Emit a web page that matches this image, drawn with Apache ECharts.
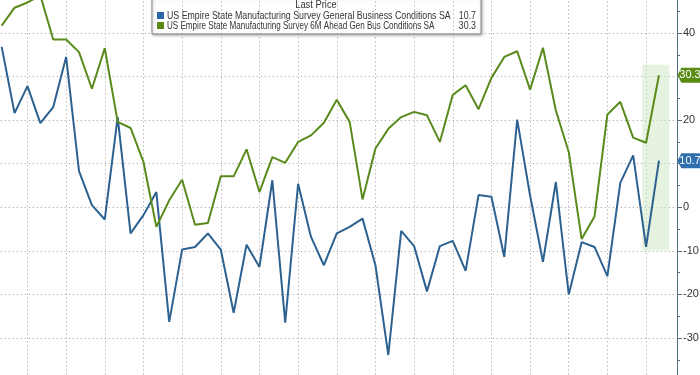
<!DOCTYPE html>
<html>
<head>
<meta charset="utf-8">
<script src="https://cdn.jsdelivr.net/npm/echarts@6/dist/echarts.min.js"></script>
<style>html,body{margin:0;padding:0;background:#fff}#c{width:700px;height:375px}</style>
</head>
<body>
<div id="c"></div>
<script>
// Monthly index (0 = first visible month)
var months = [];
for (var k = 0; k < 52; k++) months.push(k);

var seriesNames = [
  'US Empire State Manufacturing Survey General Business Conditions SA',
  'US Empire State Manufacturing Survey 6M Ahead Gen Bus Conditions SA'
];
var legendTitle = 'Last Price';

var generalBusiness = [36.8,21.6,27.8,19.3,23.0,34.5,8.3,0.5,-2.8,20.7,
  -6.0,-1.8,3.5,-26.3,-9.7,-9.1,-6.0,-9.7,-24.2,-8.6,
  -13.7,6.2,-26.5,5.4,-6.8,-13.3,-6.0,-4.5,-2.6,-13.3,
  -33.9,-5.4,-8.9,-19.3,-8.9,-7.7,-14.6,2.8,2.4,-11.4,
  20.1,2.7,-12.5,5.8,-20.0,-8.0,-9.1,-15.8,5.6,11.9,
  -9.1,10.7];

var sixMonthAhead = [41.7,45.8,47.0,48.6,38.5,38.5,35.6,27.2,36.5,19.6,
  18.2,10.4,-4.5,1.6,6.3,-4.0,-3.6,7.1,7.1,13.3,
  3.5,11.5,10.2,15.0,16.5,19.4,24.7,19.6,1.8,13.5,
  18.0,20.7,21.9,21.1,15.0,25.8,28.0,22.5,29.7,34.5,
  35.8,27.0,36.6,22.2,12.7,-7.3,-2.1,21.3,24.2,16.0,
  14.8,30.3];

var lastPrices = ['10.7', '30.3'];
var yTicks = [-30, -20, -10, 0, 10, 20, 30, 40];
// highlighted window: [x from, x to], [y top, y bottom]
var highlightX = [49.7, 51.8];
var highlightY = [32.7, -9.9];

var xMax = 52.4;
var colors = ['#2d6190', '#5a8a1c'];
var boxColors = ['#2f6fae', '#5a8c14'];
var legendSwatch = ['#2a66a8', '#5a8a14'];
var FONT = "'Liberation Sans',Arial,sans-serif";
var nameScale = [0.8, 0.735];

function pairs(vals) { return vals.map(function (v, i) { return [months[i], v]; }); }

var arrow = 'path://M0,7.5 L4,0 L24,0 L24,15 L4,15 Z';

function endMark(idx, vals) {
  var last = vals[vals.length - 1];
  return {
    symbol: arrow,
    symbolSize: [23, 15],
    symbolOffset: [12, 0],
    symbolKeepAspect: false,
    silent: true,
    itemStyle: { color: boxColors[idx] },
    label: { show: true, position: 'inside', offset: [1, 0], color: '#fff', fontSize: 11, fontFamily: FONT,
      formatter: function () { return lastPrices[idx]; } },
    data: [{ coord: [xMax, last], value: last }]
  };
}

var legendGraphic = {
  type: 'group', z: 50,
  children: [
    { type: 'rect', x: 152, y: -3, shape: { width: 329, height: 37 },
      style: { fill: '#fff', stroke: '#8a8a8a', lineWidth: 1,
        shadowColor: 'rgba(0,0,0,0.3)', shadowBlur: 3, shadowOffsetX: 1, shadowOffsetY: 1 } },
    { type: 'text', x: 316, y: 5, scaleX: 0.85,
      style: { text: legendTitle, fill: '#333', font: '11px ' + FONT, align: 'center', verticalAlign: 'middle' } },
    { type: 'rect', x: 157, y: 12, shape: { width: 7, height: 7 }, style: { fill: legendSwatch[0] } },
    { type: 'rect', x: 157, y: 22, shape: { width: 7, height: 7 }, style: { fill: legendSwatch[1] } },
    { type: 'text', x: 167, y: 15.5, scaleX: nameScale[0],
      style: { text: seriesNames[0], fill: '#333', font: '11px ' + FONT, align: 'left', verticalAlign: 'middle' } },
    { type: 'text', x: 167, y: 25.7, scaleX: nameScale[1],
      style: { text: seriesNames[1], fill: '#333', font: '11px ' + FONT, align: 'left', verticalAlign: 'middle' } },
    { type: 'text', x: 476, y: 15.5, scaleX: 0.8,
      style: { text: lastPrices[0], fill: '#333', font: '11px ' + FONT, align: 'right', verticalAlign: 'middle' } },
    { type: 'text', x: 476, y: 25.7, scaleX: 0.8,
      style: { text: lastPrices[1], fill: '#333', font: '11px ' + FONT, align: 'right', verticalAlign: 'middle' } }
  ]
};

var chart = echarts.init(document.getElementById('c'), null, { renderer: 'canvas' });
chart.setOption({
  animation: false,
  backgroundColor: '#fff',
  graphic: [legendGraphic],
  grid: { left: -11.2, right: 23, top: -10.6, bottom: -6.6, containLabel: false, outerBoundsMode: 'none' },
  xAxis: {
    type: 'value', min: -1, max: xMax, interval: 3,
    axisLine: { show: false, onZero: false }, axisTick: { show: false }, axisLabel: { show: false },
    splitLine: { show: true, lineStyle: { color: '#9a9a9a', type: [1, 3], width: 1 } }
  },
  yAxis: {
    type: 'value', position: 'right', min: -40, max: 50, interval: 10,
    axisLine: { show: true, onZero: false, lineStyle: { color: '#4f6f82', width: 1 } },
    axisTick: { show: true, length: 5, lineStyle: { color: '#4f6f82' } },
    minorTick: { show: true, splitNumber: 2, length: 3, lineStyle: { color: '#4f6f82' } },
    axisLabel: { show: true, margin: 6, color: '#333', fontSize: 11, fontFamily: FONT,
      formatter: function (v) { return yTicks.indexOf(v) >= 0 ? String(v) : ''; } },
    splitLine: { show: true, lineStyle: { color: '#9a9a9a', type: [1, 3], width: 1 } }
  },
  series: [
    {
      name: seriesNames[0], type: 'line', data: pairs(generalBusiness),
      symbol: 'none', lineStyle: { color: colors[0], width: 2 }, itemStyle: { color: boxColors[0] },
      z: 3, markPoint: endMark(0, generalBusiness)
    },
    {
      name: seriesNames[1], type: 'line', data: pairs(sixMonthAhead),
      symbol: 'none', lineStyle: { color: colors[1], width: 2 }, itemStyle: { color: boxColors[1] },
      z: 4, markPoint: endMark(1, sixMonthAhead),
      markArea: {
        silent: true,
        itemStyle: { color: 'rgba(205,232,195,0.5)' },
        data: [[{ coord: [highlightX[0], highlightY[0]] }, { coord: [highlightX[1], highlightY[1]] }]]
      }
    }
  ]
});
</script>
</body>
</html>
